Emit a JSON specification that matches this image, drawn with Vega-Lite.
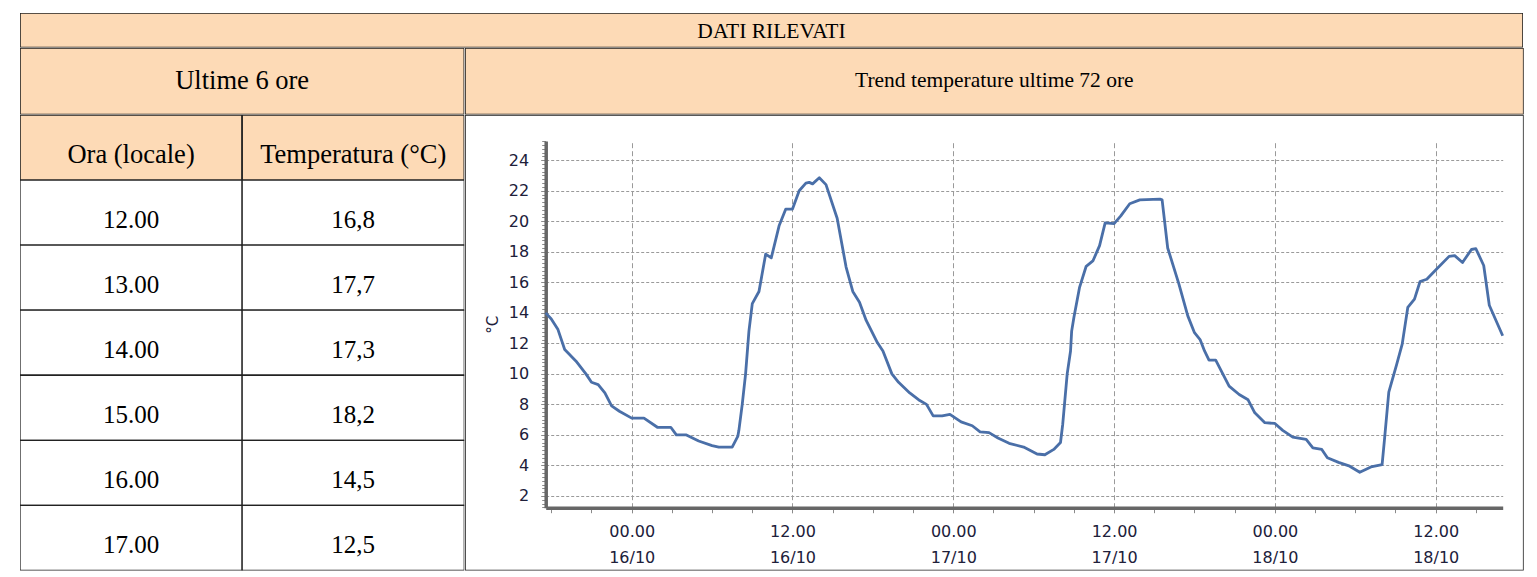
{
  "$schema": "https://vega.github.io/schema/vega-lite/v6.json",
  "background": "white",
  "padding": {"left": 20, "top": 13, "right": 14, "bottom": 7},
  "config": {
    "view": {"stroke": null},
    "concat": {"spacing": 0},
    "scale": {"bandPaddingInner": 0, "bandPaddingOuter": 0}
  },
  "spacing": 0,
  "vconcat": [
    {
      "width": 1503,
      "height": 34.5,
      "data": {"values": [{"titolo": "DATI RILEVATI"}]},
      "layer": [
        {"mark": {"type": "rect", "fill": "#FDDAB6", "stroke": "#222", "strokeWidth": 1.6, "clip": true},
         "encoding": {"x": {"field": "titolo", "type": "nominal", "axis": null}}},
        {"mark": {"type": "text", "font": "Liberation Serif", "fontSize": 21.5, "color": "#000", "dy": 1.5},
         "encoding": {"x": {"field": "titolo", "type": "nominal", "axis": null}, "text": {"field": "titolo"}}}
      ]
    },
    {
      "spacing": 0,
      "hconcat": [
        {
          "spacing": 0,
          "vconcat": [
            {
              "width": 444.3,
              "height": 66.5,
              "data": {"values": [{"titolo": "Ultime 6 ore"}]},
              "layer": [
                {"mark": {"type": "rect", "fill": "#FDDAB6", "stroke": "#222", "strokeWidth": 1.6, "clip": true},
                 "encoding": {"x": {"field": "titolo", "type": "nominal", "axis": null}}},
                {"mark": {"type": "text", "font": "Liberation Serif", "fontSize": 26.5, "color": "#000"},
                 "encoding": {"x": {"field": "titolo", "type": "nominal", "axis": null}, "text": {"field": "titolo"}}}
              ]
            },
            {
              "width": 444.3,
              "height": 65,
              "data": {"values": [{"colonna": "Ora (locale)"}, {"colonna": "Temperatura (°C)"}]},
              "layer": [
                {"mark": {"type": "rect", "fill": "#FDDAB6", "stroke": "#222", "strokeWidth": 1.6, "clip": true},
                 "encoding": {"x": {"field": "colonna", "type": "nominal", "axis": null, "sort": null}}},
                {"mark": {"type": "text", "font": "Liberation Serif", "fontSize": 26.5, "color": "#000", "dy": 7},
                 "encoding": {"x": {"field": "colonna", "type": "nominal", "axis": null, "sort": null}, "text": {"field": "colonna"}}}
              ]
            },
            {
              "width": 444.3,
              "height": 390.5,
              "data": {"values": [
                {"ora": "12.00", "temp": "16,8"},
                {"ora": "13.00", "temp": "17,7"},
                {"ora": "14.00", "temp": "17,3"},
                {"ora": "15.00", "temp": "18,2"},
                {"ora": "16.00", "temp": "14,5"},
                {"ora": "17.00", "temp": "12,5"}
              ]},
              "layer": [
                {"mark": {"type": "rect", "fill": "white", "stroke": "#222", "strokeWidth": 1.3, "clip": true},
                 "encoding": {
                   "x": {"datum": "ora", "type": "nominal", "axis": null, "scale": {"domain": ["ora", "temp"]}},
                   "y": {"field": "ora", "type": "nominal", "axis": null, "sort": null}}},
                {"mark": {"type": "rect", "fill": "white", "stroke": "#222", "strokeWidth": 1.3, "clip": true},
                 "encoding": {
                   "x": {"datum": "temp", "type": "nominal", "axis": null},
                   "y": {"field": "ora", "type": "nominal", "axis": null, "sort": null}}},
                {"mark": {"type": "text", "font": "Liberation Serif", "fontSize": 25, "color": "#000", "dy": 7.5},
                 "encoding": {
                   "x": {"datum": "ora", "type": "nominal", "axis": null},
                   "y": {"field": "ora", "type": "nominal", "axis": null, "sort": null},
                   "text": {"field": "ora"}}},
                {"mark": {"type": "text", "font": "Liberation Serif", "fontSize": 25, "color": "#000", "dy": 7.5},
                 "encoding": {
                   "x": {"datum": "temp", "type": "nominal", "axis": null},
                   "y": {"field": "ora", "type": "nominal", "axis": null, "sort": null},
                   "text": {"field": "temp"}}}
              ]
            }
          ]
        },
        {
          "spacing": 0,
          "vconcat": [
            {
              "width": 1058.7,
              "height": 66.5,
              "data": {"values": [{"titolo": "Trend temperature ultime 72 ore"}]},
              "layer": [
                {"mark": {"type": "rect", "fill": "#FDDAB6", "stroke": "#222", "strokeWidth": 1.6, "clip": true},
                 "encoding": {"x": {"field": "titolo", "type": "nominal", "axis": null}}},
                {"mark": {"type": "text", "font": "Liberation Serif", "fontSize": 21.5, "color": "#000"},
                 "encoding": {"x": {"field": "titolo", "type": "nominal", "axis": null}, "text": {"field": "titolo"}}}
              ]
            },
            {
              "width": 1058.7,
              "height": 455.5,
              "view": {"fill": "white"},
              "data": {"values": [
                {"t": "2023-10-15T17:35:00", "v": 14.0},
                {"t": "2023-10-15T18:00:00", "v": 13.6},
                {"t": "2023-10-15T18:30:00", "v": 12.9},
                {"t": "2023-10-15T19:00:00", "v": 11.6},
                {"t": "2023-10-15T19:50:00", "v": 10.85},
                {"t": "2023-10-15T20:35:00", "v": 10.0},
                {"t": "2023-10-15T21:00:00", "v": 9.45},
                {"t": "2023-10-15T21:30:00", "v": 9.3},
                {"t": "2023-10-15T22:00:00", "v": 8.75},
                {"t": "2023-10-15T22:30:00", "v": 7.9},
                {"t": "2023-10-15T23:05:00", "v": 7.55},
                {"t": "2023-10-16T00:00:00", "v": 7.1},
                {"t": "2023-10-16T00:55:00", "v": 7.1},
                {"t": "2023-10-16T01:55:00", "v": 6.5},
                {"t": "2023-10-16T02:55:00", "v": 6.5},
                {"t": "2023-10-16T03:20:00", "v": 6.0},
                {"t": "2023-10-16T04:05:00", "v": 6.0},
                {"t": "2023-10-16T05:00:00", "v": 5.6},
                {"t": "2023-10-16T06:00:00", "v": 5.3},
                {"t": "2023-10-16T06:30:00", "v": 5.2},
                {"t": "2023-10-16T07:30:00", "v": 5.2},
                {"t": "2023-10-16T07:55:00", "v": 5.9},
                {"t": "2023-10-16T08:00:00", "v": 6.3},
                {"t": "2023-10-16T08:15:00", "v": 8.0},
                {"t": "2023-10-16T08:30:00", "v": 10.0},
                {"t": "2023-10-16T08:45:00", "v": 12.8},
                {"t": "2023-10-16T09:00:00", "v": 14.6},
                {"t": "2023-10-16T09:30:00", "v": 15.4},
                {"t": "2023-10-16T10:00:00", "v": 17.85},
                {"t": "2023-10-16T10:25:00", "v": 17.6},
                {"t": "2023-10-16T11:00:00", "v": 19.7},
                {"t": "2023-10-16T11:30:00", "v": 20.8},
                {"t": "2023-10-16T12:00:00", "v": 20.8},
                {"t": "2023-10-16T12:30:00", "v": 22.0},
                {"t": "2023-10-16T13:00:00", "v": 22.5},
                {"t": "2023-10-16T13:15:00", "v": 22.55},
                {"t": "2023-10-16T13:30:00", "v": 22.45},
                {"t": "2023-10-16T14:00:00", "v": 22.85},
                {"t": "2023-10-16T14:30:00", "v": 22.4},
                {"t": "2023-10-16T15:20:00", "v": 20.2},
                {"t": "2023-10-16T16:00:00", "v": 17.0},
                {"t": "2023-10-16T16:30:00", "v": 15.4},
                {"t": "2023-10-16T17:00:00", "v": 14.7},
                {"t": "2023-10-16T17:30:00", "v": 13.5},
                {"t": "2023-10-16T18:20:00", "v": 12.05},
                {"t": "2023-10-16T18:45:00", "v": 11.5},
                {"t": "2023-10-16T19:25:00", "v": 10.0},
                {"t": "2023-10-16T19:55:00", "v": 9.45},
                {"t": "2023-10-16T20:45:00", "v": 8.75},
                {"t": "2023-10-16T21:30:00", "v": 8.25},
                {"t": "2023-10-16T22:00:00", "v": 8.0},
                {"t": "2023-10-16T22:30:00", "v": 7.25},
                {"t": "2023-10-16T23:10:00", "v": 7.25},
                {"t": "2023-10-16T23:45:00", "v": 7.35},
                {"t": "2023-10-17T00:35:00", "v": 6.85},
                {"t": "2023-10-17T01:25:00", "v": 6.6},
                {"t": "2023-10-17T02:00:00", "v": 6.2},
                {"t": "2023-10-17T02:40:00", "v": 6.15},
                {"t": "2023-10-17T03:20:00", "v": 5.8},
                {"t": "2023-10-17T04:10:00", "v": 5.45},
                {"t": "2023-10-17T05:15:00", "v": 5.2},
                {"t": "2023-10-17T06:15:00", "v": 4.75},
                {"t": "2023-10-17T06:50:00", "v": 4.7},
                {"t": "2023-10-17T07:30:00", "v": 5.05},
                {"t": "2023-10-17T08:00:00", "v": 5.5},
                {"t": "2023-10-17T08:10:00", "v": 6.7},
                {"t": "2023-10-17T08:30:00", "v": 10.0},
                {"t": "2023-10-17T08:45:00", "v": 11.5},
                {"t": "2023-10-17T08:50:00", "v": 12.8},
                {"t": "2023-10-17T09:00:00", "v": 13.7},
                {"t": "2023-10-17T09:25:00", "v": 15.65},
                {"t": "2023-10-17T09:55:00", "v": 17.05},
                {"t": "2023-10-17T10:25:00", "v": 17.4},
                {"t": "2023-10-17T10:55:00", "v": 18.4},
                {"t": "2023-10-17T11:20:00", "v": 19.9},
                {"t": "2023-10-17T12:00:00", "v": 19.85},
                {"t": "2023-10-17T12:30:00", "v": 20.35},
                {"t": "2023-10-17T13:10:00", "v": 21.15},
                {"t": "2023-10-17T13:55:00", "v": 21.4},
                {"t": "2023-10-17T15:25:00", "v": 21.45},
                {"t": "2023-10-17T15:35:00", "v": 21.4},
                {"t": "2023-10-17T16:00:00", "v": 18.25},
                {"t": "2023-10-17T16:50:00", "v": 15.9},
                {"t": "2023-10-17T17:30:00", "v": 13.8},
                {"t": "2023-10-17T18:00:00", "v": 12.7},
                {"t": "2023-10-17T18:25:00", "v": 12.25},
                {"t": "2023-10-17T18:45:00", "v": 11.5},
                {"t": "2023-10-17T19:05:00", "v": 10.9},
                {"t": "2023-10-17T19:35:00", "v": 10.9},
                {"t": "2023-10-17T20:35:00", "v": 9.2},
                {"t": "2023-10-17T21:20:00", "v": 8.65},
                {"t": "2023-10-17T22:00:00", "v": 8.3},
                {"t": "2023-10-17T22:30:00", "v": 7.45},
                {"t": "2023-10-17T23:15:00", "v": 6.8},
                {"t": "2023-10-18T00:00:00", "v": 6.75},
                {"t": "2023-10-18T00:35:00", "v": 6.3},
                {"t": "2023-10-18T01:20:00", "v": 5.85},
                {"t": "2023-10-18T02:20:00", "v": 5.7},
                {"t": "2023-10-18T02:50:00", "v": 5.15},
                {"t": "2023-10-18T03:30:00", "v": 5.05},
                {"t": "2023-10-18T03:55:00", "v": 4.5},
                {"t": "2023-10-18T04:45:00", "v": 4.2},
                {"t": "2023-10-18T05:35:00", "v": 3.95},
                {"t": "2023-10-18T06:20:00", "v": 3.55},
                {"t": "2023-10-18T07:10:00", "v": 3.9},
                {"t": "2023-10-18T08:00:00", "v": 4.05},
                {"t": "2023-10-18T08:10:00", "v": 5.6},
                {"t": "2023-10-18T08:30:00", "v": 8.8},
                {"t": "2023-10-18T09:05:00", "v": 10.6},
                {"t": "2023-10-18T09:30:00", "v": 11.95},
                {"t": "2023-10-18T09:55:00", "v": 14.35},
                {"t": "2023-10-18T10:25:00", "v": 14.9},
                {"t": "2023-10-18T10:50:00", "v": 16.05},
                {"t": "2023-10-18T11:20:00", "v": 16.2},
                {"t": "2023-10-18T12:00:00", "v": 16.8},
                {"t": "2023-10-18T13:00:00", "v": 17.7},
                {"t": "2023-10-18T13:25:00", "v": 17.75},
                {"t": "2023-10-18T14:00:00", "v": 17.3},
                {"t": "2023-10-18T14:40:00", "v": 18.15},
                {"t": "2023-10-18T15:00:00", "v": 18.2},
                {"t": "2023-10-18T15:35:00", "v": 17.1},
                {"t": "2023-10-18T16:00:00", "v": 14.5},
                {"t": "2023-10-18T17:00:00", "v": 12.5}
              ]},
              "layer": [
                {
                  "data": {"values": [{"cella": "Trend temperature ultime 72 ore"}]},
                  "mark": {"type": "rect", "filled": false, "stroke": "#222", "strokeWidth": 1.6, "clip": true},
                  "encoding": {}
                },
                {
                  "mark": {"type": "line", "strokeOpacity": 0},
                  "encoding": {
                    "x": {"field": "t", "type": "temporal",
                      "axis": {"orient": "top", "title": null,
                        "values": [
                          {"year": 2023, "month": 10, "date": 16, "hours": 0},
                          {"year": 2023, "month": 10, "date": 16, "hours": 12},
                          {"year": 2023, "month": 10, "date": 17, "hours": 0},
                          {"year": 2023, "month": 10, "date": 17, "hours": 12},
                          {"year": 2023, "month": 10, "date": 18, "hours": 0},
                          {"year": 2023, "month": 10, "date": 18, "hours": 12}
                        ],
                        "labels": false, "ticks": false, "domain": false,
                        "grid": true, "gridColor": "#9a9a9a", "gridDash": [5, 3], "gridWidth": 1}},
                    "y": {"field": "v", "type": "quantitative",
                      "axis": {"orient": "left", "offset": -80.7, "title": null,
                        "values": [1.25, 1.5, 1.75, 2, 2.25, 2.5, 2.75, 3, 3.25, 3.5, 3.75, 4, 4.25, 4.5, 4.75, 5, 5.25, 5.5, 5.75, 6, 6.25, 6.5, 6.75, 7, 7.25, 7.5, 7.75, 8, 8.25, 8.5, 8.75, 9, 9.25, 9.5, 9.75, 10, 10.25, 10.5, 10.75, 11, 11.25, 11.5, 11.75, 12, 12.25, 12.5, 12.75, 13, 13.25, 13.5, 13.75, 14, 14.25, 14.5, 14.75, 15, 15.25, 15.5, 15.75, 16, 16.25, 16.5, 16.75, 17, 17.25, 17.5, 17.75, 18, 18.25, 18.5, 18.75, 19, 19.25, 19.5, 19.75, 20, 20.25, 20.5, 20.75, 21, 21.25, 21.5, 21.75, 22, 22.25, 22.5, 22.75, 23, 23.25, 23.5, 23.75, 24, 24.25, 24.5, 24.75, 25, 25.25],
                        "labels": false, "grid": false, "domain": false, "ticks": true, "tickColor": "#8a8a8a", "tickSize": 4, "tickWidth": 1}}
                  }
                },
                {
                  "mark": {"type": "line", "strokeOpacity": 0},
                  "encoding": {
                    "x": {"field": "t", "type": "temporal",
                      "axis": {"orient": "bottom", "offset": -62.8, "title": null,
                        "values": [
                          {"year": 2023, "month": 10, "date": 15, "hours": 18},
                          {"year": 2023, "month": 10, "date": 15, "hours": 21},
                          {"year": 2023, "month": 10, "date": 16, "hours": 0},
                          {"year": 2023, "month": 10, "date": 16, "hours": 3},
                          {"year": 2023, "month": 10, "date": 16, "hours": 6},
                          {"year": 2023, "month": 10, "date": 16, "hours": 9},
                          {"year": 2023, "month": 10, "date": 16, "hours": 12},
                          {"year": 2023, "month": 10, "date": 16, "hours": 15},
                          {"year": 2023, "month": 10, "date": 16, "hours": 18},
                          {"year": 2023, "month": 10, "date": 16, "hours": 21},
                          {"year": 2023, "month": 10, "date": 17, "hours": 0},
                          {"year": 2023, "month": 10, "date": 17, "hours": 3},
                          {"year": 2023, "month": 10, "date": 17, "hours": 6},
                          {"year": 2023, "month": 10, "date": 17, "hours": 9},
                          {"year": 2023, "month": 10, "date": 17, "hours": 12},
                          {"year": 2023, "month": 10, "date": 17, "hours": 15},
                          {"year": 2023, "month": 10, "date": 17, "hours": 18},
                          {"year": 2023, "month": 10, "date": 17, "hours": 21},
                          {"year": 2023, "month": 10, "date": 18, "hours": 0},
                          {"year": 2023, "month": 10, "date": 18, "hours": 3},
                          {"year": 2023, "month": 10, "date": 18, "hours": 6},
                          {"year": 2023, "month": 10, "date": 18, "hours": 9},
                          {"year": 2023, "month": 10, "date": 18, "hours": 12},
                          {"year": 2023, "month": 10, "date": 18, "hours": 15}
                        ],
                        "labels": false, "grid": false, "domain": false, "ticks": true, "tickColor": "#8a8a8a", "tickSize": 5, "tickWidth": 1}},
                    "y": {"field": "v", "type": "quantitative", "axis": null}
                  }
                },
                {
                  "mark": {"type": "line", "stroke": "#4a6fa8", "strokeWidth": 2.8, "strokeJoin": "round"},
                  "encoding": {
                    "x": {"field": "t", "type": "temporal",
                      "scale": {"domain": [{"year": 2023, "month": 10, "date": 15, "hours": 17, "minutes": 35}, {"year": 2023, "month": 10, "date": 18, "hours": 17, "minutes": 0}], "range": [80.7, 1037.7], "nice": false},
                      "axis": {"orient": "bottom", "offset": -62.8, "title": null,
                        "values": [
                          {"year": 2023, "month": 10, "date": 16, "hours": 0},
                          {"year": 2023, "month": 10, "date": 16, "hours": 12},
                          {"year": 2023, "month": 10, "date": 17, "hours": 0},
                          {"year": 2023, "month": 10, "date": 17, "hours": 12},
                          {"year": 2023, "month": 10, "date": 18, "hours": 0},
                          {"year": 2023, "month": 10, "date": 18, "hours": 12}
                        ],
                        "labelExpr": "[timeFormat(datum.value, '%H.%M'), timeFormat(datum.value, '%d/%m')]",
                        "labelFont": "DejaVu Sans", "labelFontSize": 16, "labelColor": "#20203a", "labelLineHeight": 26, "labelPadding": 11, "labelFlush": false, "labelOverlap": false,
                        "grid": false,
                        "domain": true, "domainColor": "#666666", "domainWidth": 3.5,
                        "ticks": true, "tickColor": "#8a8a8a", "tickSize": 5, "tickWidth": 1}},
                    "y": {"field": "v", "type": "quantitative",
                      "scale": {"domain": [1.23, 25.26], "range": [392.7, 26], "nice": false, "zero": false},
                      "axis": {"orient": "left", "offset": -80.7, "title": "°C", "titleFont": "DejaVu Sans", "titleFontSize": 15, "titleFontWeight": "normal", "titleColor": "#20203a", "titlePadding": 8,
                        "values": [2, 4, 6, 8, 10, 12, 14, 16, 18, 20, 22, 24],
                        "labelFont": "DejaVu Sans", "labelFontSize": 16, "labelColor": "#20203a", "labelPadding": 12,
                        "grid": true, "gridColor": "#9a9a9a", "gridDash": [3, 2], "gridWidth": 1,
                        "domain": true, "domainColor": "#666666", "domainWidth": 3.5,
                        "ticks": true, "tickColor": "#8a8a8a", "tickSize": 5, "tickWidth": 1}}
                  }
                }
              ],
              "resolve": {"axis": {"x": "independent", "y": "independent"}}
            }
          ]
        }
      ]
    }
  ]
}
